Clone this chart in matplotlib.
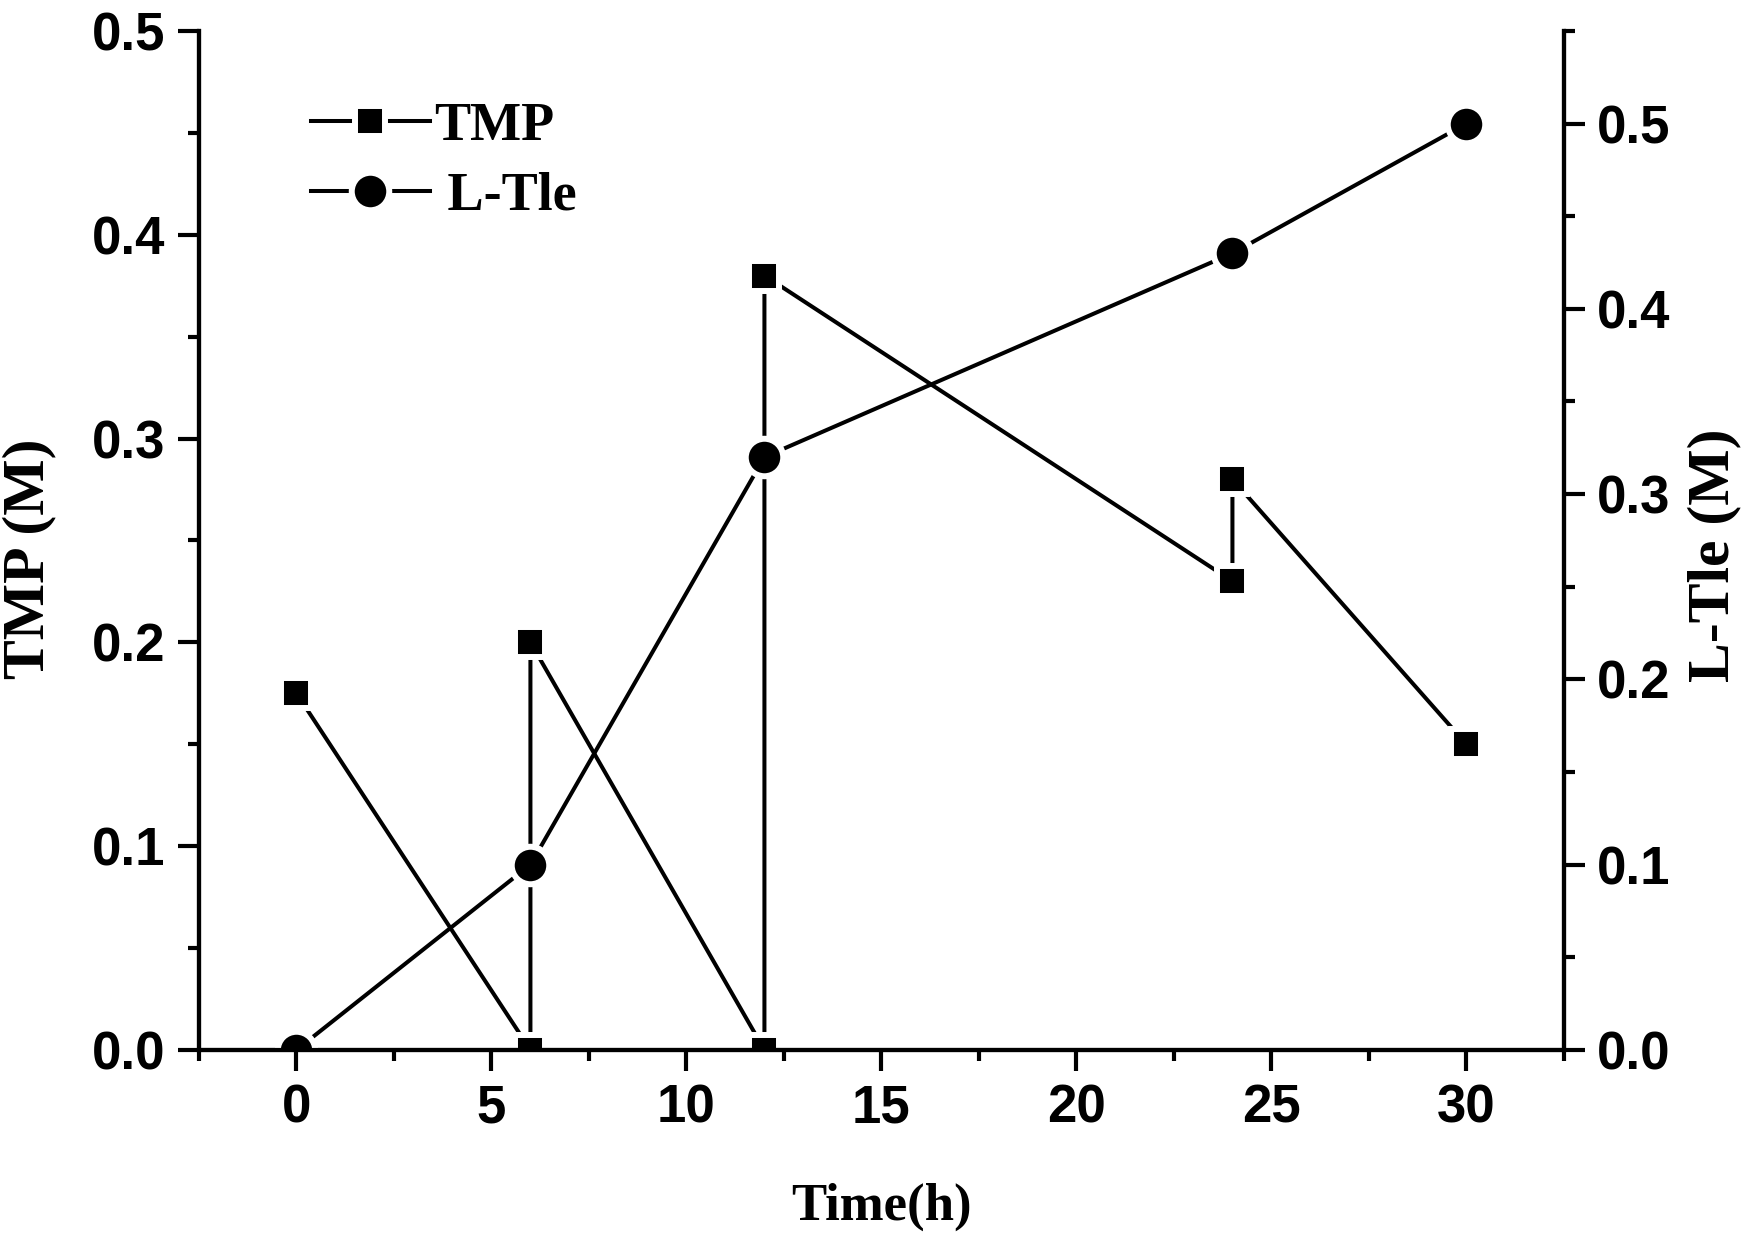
import matplotlib
matplotlib.use('Agg')
from matplotlib import pyplot as plt
from matplotlib.ticker import MultipleLocator, FormatStrFormatter

time_tmp = [0, 6, 6, 12, 12, 24, 24, 30]
tmp = [0.175, 0.0, 0.2, 0.0, 0.38, 0.23, 0.28, 0.15]
time_tle = [0, 6, 12, 24, 30]
tle = [0.0, 0.1, 0.32, 0.43, 0.5]

tick_font = {'family': 'Liberation Sans', 'weight': 'bold', 'size': 38}
xlabel_font = {'family': 'Liberation Serif', 'weight': 'bold', 'size': 38}
ylabel_font = {'family': 'Liberation Serif', 'weight': 'bold', 'size': 43}

fig = plt.figure(figsize=(17.48, 12.38), dpi=100)
ax = fig.add_axes([0.1138, 0.1519, 0.7809, 0.8231])
ax2 = ax.twinx()

h1, = ax.plot(time_tmp, tmp, color='black', linewidth=2.9, marker='s',
              markersize=21, markerfacecolor='black', markeredgecolor='white',
              markeredgewidth=4.3)
h2, = ax2.plot(time_tle, tle, color='black', linewidth=2.9, marker='o',
               markersize=27, markerfacecolor='black', markeredgecolor='white',
               markeredgewidth=4.3)

ax.set_xlim(-2.5, 32.5)
ax.set_ylim(0, 0.5)
ax2.set_ylim(0, 0.55)

ax.xaxis.set_major_locator(MultipleLocator(5))
ax.xaxis.set_minor_locator(MultipleLocator(2.5))
ax.yaxis.set_major_locator(MultipleLocator(0.1))
ax.yaxis.set_minor_locator(MultipleLocator(0.05))
ax2.yaxis.set_major_locator(MultipleLocator(0.1))
ax2.yaxis.set_minor_locator(MultipleLocator(0.05))
ax.yaxis.set_major_formatter(FormatStrFormatter('%.1f'))
ax2.yaxis.set_major_formatter(FormatStrFormatter('%.1f'))

for a in (ax, ax2):
    a.spines['top'].set_visible(False)
    for s in ('left', 'right', 'bottom'):
        a.spines[s].set_linewidth(3)
    a.tick_params(which='major', length=15, width=3, direction='out', pad=9)
    a.tick_params(which='minor', length=8, width=3, direction='out')

ax.tick_params(axis='y', which='both', left=True, right=False)
ax.tick_params(axis='x', which='both', top=False)
ax2.tick_params(axis='y', which='both', left=False, right=True)

for lbl in ax.get_xticklabels() + ax.get_yticklabels() + ax2.get_yticklabels():
    lbl.set_fontproperties(tick_font)

ax.set_xlabel('Time(h)', fontdict=xlabel_font)
ax.set_ylabel('TMP (M)', fontdict=ylabel_font)
ax2.set_ylabel('L-Tle (M)', fontdict=ylabel_font, rotation=90)
ax.xaxis.set_label_coords(0.5, -0.154)
ax.xaxis.label.set_va('center')
ax.yaxis.set_label_coords(-0.124, 0.482)
ax.yaxis.label.set_va('center')
ax2.yaxis.set_label_coords(1.11, 0.485)
ax2.yaxis.label.set_va('center')

ax2.legend([h1, h2], ['TMP', ' L-Tle'], loc='upper left',
           bbox_to_anchor=(0.082, 0.93), frameon=False, borderpad=0,
           borderaxespad=0, handlelength=2.2, handletextpad=0.08,
           labelspacing=0.36, prop={'family': 'Liberation Serif',
                                    'weight': 'bold', 'size': 39})

fig.savefig('out.png', dpi=100)
